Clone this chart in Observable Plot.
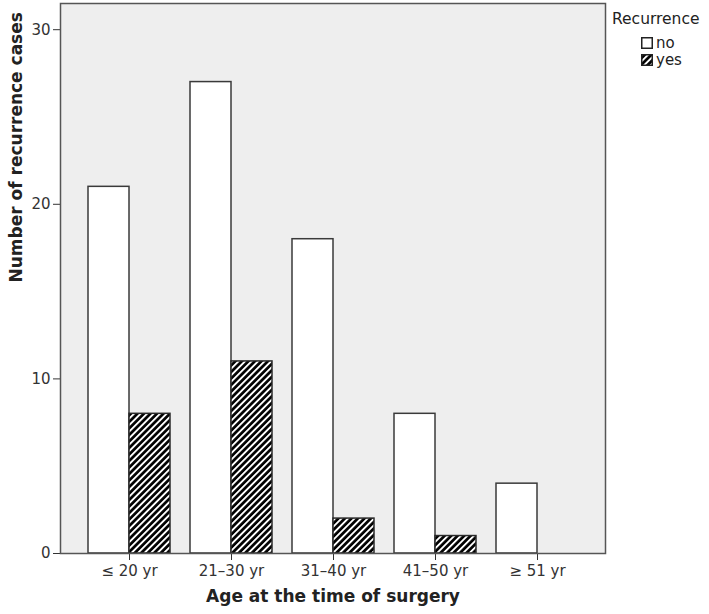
<!DOCTYPE html>
<html>
<head>
<meta charset="utf-8">
<script src="https://cdn.jsdelivr.net/npm/d3@7"></script>
<script src="https://cdn.jsdelivr.net/npm/@observablehq/plot@0.6"></script>
<style>
  body { margin: 0; background: white; font-family: "DejaVu Sans", sans-serif; }
  #wrap { position: relative; width: 709px; height: 614px; }
  #legend { position: absolute; left: 612px; top: 10px; color: #222; }
  #legend .title { font-size: 15.5px; margin-bottom: 7px; }
  #legend .item { display: flex; align-items: center; font-size: 15px; height: 16.5px; margin-left: 29px; }
  #legend .item svg { margin-right: 3px; }
</style>
</head>
<body>
<div id="wrap">
  <svg width="0" height="0" style="position:absolute">
    <defs>
      <pattern id="hatch" patternUnits="userSpaceOnUse" width="4.6" height="4.6" patternTransform="rotate(45)">
        <rect width="4.6" height="4.6" fill="#000"></rect>
        <rect width="1.9" height="4.6" fill="#fff"></rect>
      </pattern>
    </defs>
  </svg>
  <div id="chart"></div>
  <div id="legend"></div>
</div>
<script>
const ageGroups = ["≤ 20 yr", "21–30 yr", "31–40 yr", "41–50 yr", "≥ 51 yr"];
const noCounts = [21, 27, 18, 8, 4];
const yesCounts = [8, 11, 2, 1, 0];
const yTicks = [0, 10, 20, 30];
const seriesNames = ["no", "yes"];
const xTitle = "Age at the time of surgery";
const yTitle = "Number of recurrence cases";
const legendTitle = "Recurrence";

const noData = ageGroups.map((a, i) => ({age: a, count: noCounts[i], rec: seriesNames[0]}));
const yesData = ageGroups.map((a, i) => ({age: a, count: yesCounts[i], rec: seriesNames[1]})).filter(d => d.count > 0);

function makePlot(half) {
  return Plot.plot({
    width: 709,
    height: 614,
    marginLeft: 60,
    marginRight: 104,
    marginTop: 3,
    marginBottom: 61,
    style: {fontFamily: "DejaVu Sans, sans-serif", fontSize: "15px", color: "#333", background: "white"},
    x: {domain: ageGroups, paddingInner: 0.2, paddingOuter: 0.27, label: null, tickSize: 7, tickPadding: 5},
    y: {domain: [0, 31.5], ticks: yTicks, label: null, tickSize: 7, tickPadding: 3},
    marks: [
      Plot.frame({fill: "#eeeeee"}),
      Plot.barY(noData, {x: "age", y: "count", fill: "white", stroke: "#3a3a3a", strokeWidth: 1.5, insetRight: half}),
      Plot.barY(yesData, {x: "age", y: "count", fill: "url(#hatch)", stroke: "#2a2a2a", strokeWidth: 1.5, insetLeft: half}),
      Plot.frame({stroke: "#555", strokeWidth: 1.5}),
      Plot.text([xTitle], {frameAnchor: "bottom", dy: 48, fontWeight: "bold", fontSize: 17, fill: "#222"}),
      Plot.text([yTitle], {frameAnchor: "left", rotate: -90, dx: -44, dy: 4, fontWeight: "bold", fontSize: 17, fill: "#222"})
    ]
  });
}

let probe = makePlot(0);
const half = probe.scale("x").bandwidth / 2;
const chart = makePlot(half);
document.getElementById("chart").appendChild(chart);

// legend
const legend = d3.select("#legend");
legend.append("div").attr("class", "title").text(legendTitle);
const fills = ["white", "url(#hatch)"];
seriesNames.forEach((name, i) => {
  const item = legend.append("div").attr("class", "item");
  const s = item.append("svg").attr("width", 12).attr("height", 12);
  s.append("rect").attr("x", 0.75).attr("y", 0.75).attr("width", 10.5).attr("height", 10.5)
    .attr("fill", fills[i]).attr("stroke", "#222").attr("stroke-width", 1.5);
  item.append("span").text(name);
});
</script>
</body>
</html>
